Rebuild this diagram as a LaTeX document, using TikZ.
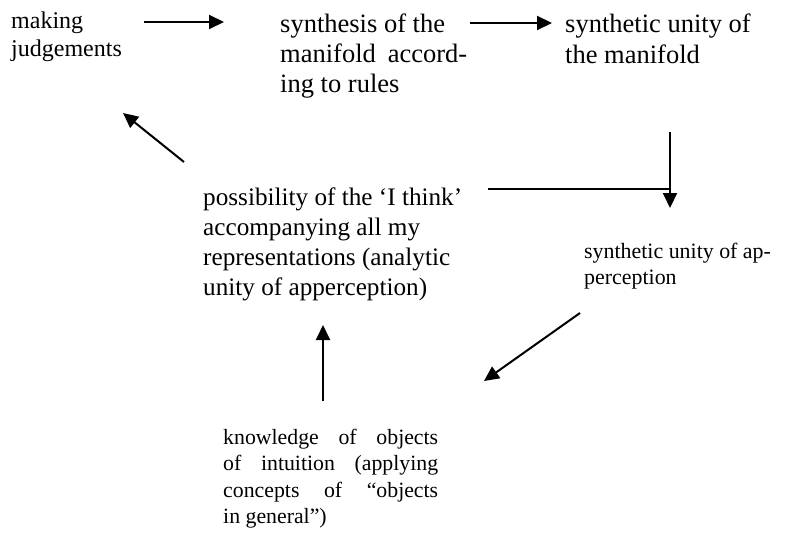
\documentclass[tikz,border=0pt]{standalone}
\usepackage{fontspec}
\setmainfont{Liberation Serif}
\usetikzlibrary{arrows.meta}
\begin{document}
\begin{tikzpicture}[x=1pt,y=-1pt,
  txt/.style={inner sep=0pt, anchor=base west, align=left},
  conn/.style={line width=2pt, -{Triangle[length=15pt,width=14pt]}},
  plainline/.style={line width=2pt}]
\useasboundingbox (0,0) rectangle (791,538);
% base anchor = baseline of the last line
\node[txt, font=\fontsize{24}{28.5}\selectfont] (mj) at (11,56.5) {making\\judgements};
\node[txt, font=\fontsize{26.5}{30}\selectfont] (syn) at (280,92)
  {synthesis of the\\\makebox[187pt][s]{manifold accord-}\\ing to rules};
\node[txt, font=\fontsize{26.5}{30.5}\selectfont] (sum) at (565,63) {synthetic unity of\\the manifold};
\node[txt, font=\fontsize{25.2}{30}\selectfont] (it) at (203,295)
  {possibility of the ‘I think’\\accompanying all my\\representations (analytic\\unity of apperception)};
\node[txt, font=\fontsize{21.9}{26}\selectfont] (sua) at (584,284) {synthetic unity of ap-\\perception};
\node[txt, font=\fontsize{21.8}{26.5}\selectfont] (ko) at (223,523.5)
  {\makebox[215pt][s]{knowledge of objects}\\\makebox[215pt][s]{of intuition (applying}\\\makebox[215pt][s]{concepts of “objects}\\in general”)};

\coordinate (mjR) at (144,22);
\coordinate (synL) at (224,22);
\coordinate (synR) at (470,23);
\coordinate (sumL) at (552,23);
\coordinate (sumB) at (670,132);
\coordinate (suaT) at (670,208);
\coordinate (itR) at (488,189);
\coordinate (join) at (670,189);
\coordinate (suaB) at (580,313);
\coordinate (diagEnd) at (484,381);
\coordinate (koT) at (323,401);
\coordinate (itB) at (323,325);
\coordinate (itTL) at (184,162);
\coordinate (mjB) at (123,113);

\draw[conn] (mjR) -- (synL);
\draw[conn] (synR) -- (sumL);
\draw[conn] (sumB) -- (suaT);
\draw[plainline] (itR) -- (join);
\draw[conn] (suaB) -- (diagEnd);
\draw[conn] (koT) -- (itB);
\draw[conn] (itTL) -- (mjB);
\end{tikzpicture}
\end{document}
